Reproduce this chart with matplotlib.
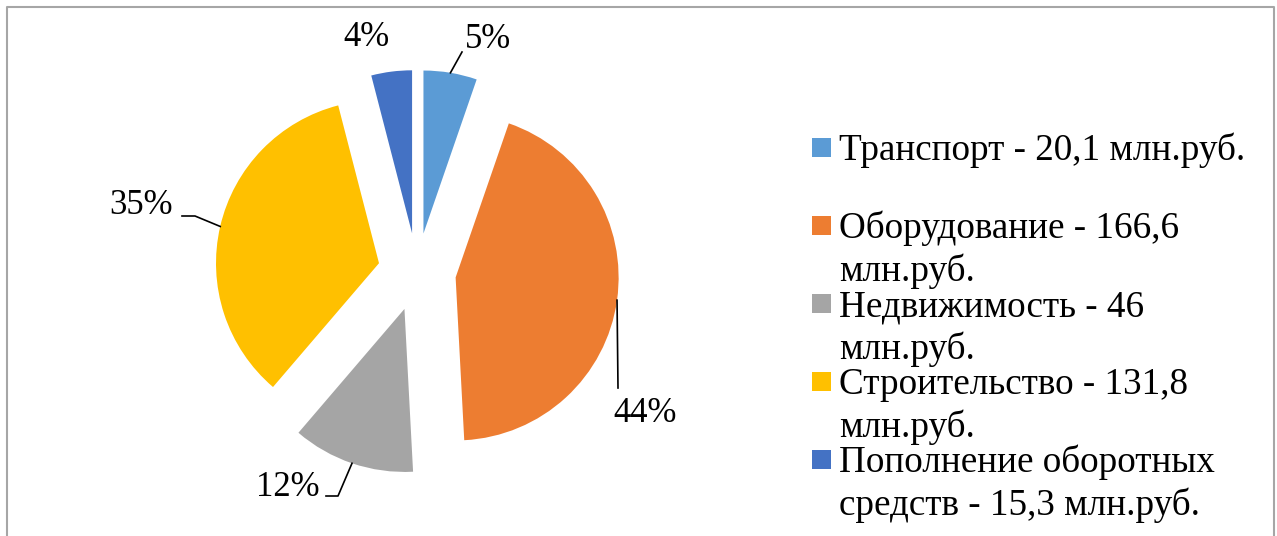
import numpy as np
import matplotlib
matplotlib.use('Agg')
import matplotlib.pyplot as plt
from matplotlib.patches import Rectangle

plt.rcParams['font.family'] = ['Liberation Serif', 'DejaVu Serif']

# data
categories = ['Транспорт', 'Оборудование', 'Недвижимость',
              'Строительство', 'Пополнение оборотных средств']
values = [20.1, 166.6, 46.0, 131.8, 15.3]
colors = ['#5b9bd5', '#ed7d31', '#a5a5a5', '#ffc000', '#4472c4']
legend_lines = [['Транспорт - 20,1 млн.руб.'],
                ['Оборудование - 166,6', 'млн.руб.'],
                ['Недвижимость - 46', 'млн.руб.'],
                ['Строительство - 131,8', 'млн.руб.'],
                ['Пополнение оборотных', 'средств - 15,3 млн.руб.']]

W, H = 1277, 536
fig = plt.figure(figsize=(W/100., H/100.), dpi=100)
ax = fig.add_axes([0, 0, 1, 1])

#pie geometry in pixels
cx, cy = 417, H - 272
rad = 163
expl = 39

wedges, _ = ax.pie(values, colors=colors, startangle=90, counterclock=False,
                   radius=rad, center=(cx, cy), explode=[expl]*len(values),
                   wedgeprops=dict(linewidth=0), frame=True)
ax.set_xlim(0, W)
ax.set_ylim(0, H)
ax.set_aspect('equal')
ax.axis('off')

pcts = np.array(values)/np.sum(values)*100.

#label layout: (text x, text y, ha, leader points beyond anchor) in pixel coords (y down)
lab_layout = [
  (488, 40, 'center', [(462, 52)]),
  (645, 413, 'center', [(618, 388)]),
  (320, 488, 'right', [(338, 496), (326, 496)]),
  (173, 206, 'right', [(195, 216), (182, 216)]),
  (367, 38, 'center', None),
]

for i, w in enumerate(wedges):
  tx, ty, ha, lead = lab_layout[i]
  ax.text(tx, H - ty, '%d%%' % round(pcts[i]), fontsize=25, ha=ha, va='center')
  if lead is not None:
    thm = np.deg2rad(0.5*(w.theta1 + w.theta2))
    ax0 = w.center[0] + w.r*np.cos(thm)
    ay0 = w.center[1] + w.r*np.sin(thm)
    xs = [ax0] + [p[0] for p in lead]
    ys = [ay0] + [H - p[1] for p in lead]
    ax.plot(xs, ys, color='black', lw=1.2)

#legend
base0 = 160
step = 78
lstep = 43
for i in range(len(categories)):
  b = base0 + step*i
  ax.add_patch(Rectangle((812, H - b + 3), 19, 19, facecolor=colors[i],
                         edgecolor='none'))
  for j, line in enumerate(legend_lines[i]):
    ax.text(839, H - (b + lstep*j), line, fontsize=26.7, ha='left',
            va='baseline')

#chart border
ax.plot([6.5, 6.5, 1273.5, 1273.5], [0, H - 6.5, H - 6.5, 0],
        color='#a6a6a6', lw=1.5, clip_on=False)

plt.savefig('out.png', dpi=100)
plt.close()
